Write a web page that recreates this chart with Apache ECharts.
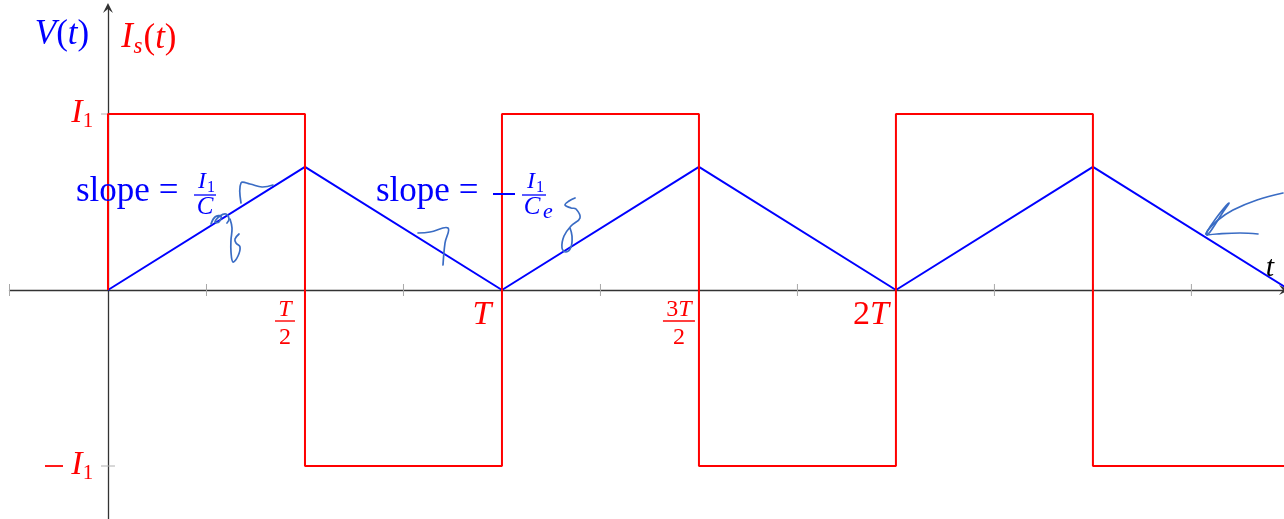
<!DOCTYPE html>
<html>
<head>
<meta charset="utf-8">
<script src="https://cdn.jsdelivr.net/npm/echarts@6/dist/echarts.min.js"></script>
<style>
  html, body { margin: 0; padding: 0; background: #fff; }
  #chart { width: 1284px; height: 519px; }
</style>
</head>
<body>
<div id="chart"></div>
<script>
// Time is measured in periods T, amplitudes in units of I1.
const currentT = [0, 0, 0.5, 0.5, 1, 1, 1.5, 1.5, 2, 2, 2.5, 2.5, 3];
const currentI = [0, 1, 1, -1, -1, 1, 1, -1, -1, 1, 1, -1, -1];
const voltageT = [0, 0.5, 1, 1.5, 2, 2.5, 3];
const voltageV = [0, 0.7, 0, 0.7, 0, 0.7, 0];

const xTicks = [-0.25, 0.25, 0.5, 0.75, 1, 1.25, 1.5, 1.75, 2, 2.25, 2.5, 2.75];
const yTicks = [1, -1];

const xLabelAt = [0.5, 1, 1.5, 2];
const xLabelNum = ['T', 'T', '3T', '2T'];
const xLabelDen = ['2', '', '2', ''];
const yLabelAt = [1, -1];
const yLabelSign = ['', '−'];

const RED = '#ff0000';
const BLUE = '#0000ff';
const INK = '#3a6cc4';
const SERIF = '"Liberation Serif", "DejaVu Serif", serif';

// letters italic, digits and brackets upright (math style)
function mathRich(s) {
  return s.split('').map(c => /[A-Za-z]/.test(c) ? '{i|' + c + '}' : '{u|' + c + '}').join('');
}
function mathStyles(size, color) {
  return {
    i: { fontFamily: SERIF, fontStyle: 'italic', fontSize: size, color: color },
    u: { fontFamily: SERIF, fontSize: size, color: color }
  };
}
function txt(text, x, y, size, color, opts) {
  opts = opts || {};
  return {
    type: 'text', x: x, y: y, silent: true, z: 10,
    style: {
      text: text,
      font: (opts.italic ? 'italic ' : '') + size + 'px ' + SERIF,
      fill: color,
      align: opts.align || 'center', textAlign: opts.align || 'center',
      verticalAlign: 'middle', textVerticalAlign: 'middle',
      rich: opts.rich
    }
  };
}
function bar(x1, x2, y, color, w) {
  return { type: 'line', silent: true, z: 10, shape: { x1: x1, y1: y, x2: x2, y2: y },
           style: { stroke: color, lineWidth: w || 1.3 } };
}
function ink(points) {
  return {
    type: 'polyline', silent: true,
    shape: { points: points, smooth: 0.4 },
    style: { stroke: INK, lineWidth: 1.7, fill: null, lineCap: 'round', lineJoin: 'round' },
    z: 20
  };
}

const arrowHead = 'path://M0,10 L5,0 L10,10 L5,6 Z';

const chart = echarts.init(document.getElementById('chart'));

chart.setOption({
  animation: false,
  grid: { left: 9.5, right: 0, top: 8, bottom: 0, containLabel: false },
  xAxis: {
    type: 'value', min: -0.25, max: 2.985,
    axisLine: { onZero: true, lineStyle: { color: '#333', width: 1.3 },
                symbol: ['none', arrowHead], symbolSize: [10, 11] },
    axisTick: { show: false }, axisLabel: { show: false }, splitLine: { show: false }
  },
  yAxis: {
    type: 'value', min: -1.3011, max: 1.6023,
    axisLine: { onZero: true, lineStyle: { color: '#333', width: 1.3 },
                symbol: ['none', arrowHead], symbolSize: [10, 11] },
    axisTick: { show: false }, axisLabel: { show: false }, splitLine: { show: false }
  },
  series: [
    {
      name: 'ticksX', type: 'custom', z: 1,
      data: xTicks.map(v => [v, 0]),
      renderItem: (params, api) => {
        const p = api.coord([api.value(0), 0]);
        return { type: 'line', shape: { x1: p[0], y1: p[1] - 6, x2: p[0], y2: p[1] + 6 },
                 style: { stroke: '#a8a8a8', lineWidth: 1 } };
      }
    },
    {
      name: 'ticksY', type: 'custom', z: 1,
      data: yTicks.map(v => [0, v]),
      renderItem: (params, api) => {
        const p = api.coord([0, api.value(1)]);
        return { type: 'line', shape: { x1: p[0] - 7, y1: p[1], x2: p[0] + 7, y2: p[1] },
                 style: { stroke: '#b0b0b0', lineWidth: 1 } };
      }
    },
    {
      name: 'V(t)', type: 'line', z: 3, clip: true,
      data: voltageT.map((t, i) => [t, voltageV[i]]),
      showSymbol: false, symbol: 'none',
      lineStyle: { color: BLUE, width: 2 }
    },
    {
      name: 'Is(t)', type: 'line', z: 4, clip: true,
      data: currentT.map((t, i) => [t, currentI[i]]),
      showSymbol: false, symbol: 'none',
      lineStyle: { color: RED, width: 2 }
    },
    {
      name: 'xLabels', type: 'custom', z: 5,
      data: xLabelAt.map((v, i) => [v, 0, i]),
      renderItem: (params, api) => {
        const idx = api.value(2);
        const p = api.coord([api.value(0), 0]);
        const cx = p[0] - 20;
        const num = xLabelNum[idx], den = xLabelDen[idx];
        if (den) {
          const w = num.length > 1 ? 16 : 10;
          return { type: 'group', children: [
            txt(mathRich(num), cx, p[1] + 20, 24, RED, { rich: mathStyles(24, RED) }),
            { type: 'line', shape: { x1: cx - w, y1: p[1] + 31, x2: cx + w, y2: p[1] + 31 },
              style: { stroke: RED, lineWidth: 1.4 } },
            txt(mathRich(den), cx, p[1] + 48, 24, RED, { rich: mathStyles(24, RED) })
          ] };
        }
        return txt(mathRich(num), cx + (num.length > 1 ? -5 : 0), p[1] + 25, 34, RED,
                   { rich: mathStyles(34, RED) });
      }
    },
    {
      name: 'yLabels', type: 'custom', z: 5,
      data: yLabelAt.map((v, i) => [0, v, i]),
      renderItem: (params, api) => {
        const idx = api.value(2);
        const p = api.coord([0, api.value(1)]);
        const kids = [
          txt('I', p[0] - 31, p[1] - 1, 34, RED, { italic: true }),
          txt('1', p[0] - 20, p[1] + 7, 21, RED)
        ];
        if (yLabelSign[idx]) kids.push(bar(p[0] - 63, p[0] - 45, p[1], RED, 1.8));
        return { type: 'group', children: kids };
      }
    }
  ],
  graphic: [
    // axis names
    txt('{i|V}{u|(}{i|t}{u|)}', 62, 35, 35, BLUE, { rich: mathStyles(35, BLUE) }),
    txt('I', 127, 38, 35, RED, { italic: true }),
    txt('s', 138, 47, 23, RED, { italic: true }),
    txt('{u|(}{i|t}{u|)}', 160, 39, 35, RED, { rich: mathStyles(35, RED) }),
    txt('t', 1270, 268, 30, '#000', { italic: true }),

    // rising-slope note
    txt('slope =', 76, 192, 35, BLUE, { align: 'left' }),
    txt('I', 202, 182, 24, BLUE, { italic: true }),
    txt('1', 211, 188, 16, BLUE),
    bar(194, 216, 195, BLUE),
    txt('C', 205, 207, 25, BLUE, { italic: true }),

    // falling-slope note
    txt('slope =', 376, 192, 35, BLUE, { align: 'left' }),
    bar(493, 515, 194, BLUE, 2),
    txt('I', 531, 182, 24, BLUE, { italic: true }),
    txt('1', 540, 188, 16, BLUE),
    bar(522, 546, 195, BLUE),
    txt('C', 532, 207, 25, BLUE, { italic: true }),
    txt('e', 548, 212, 22, BLUE, { italic: true }),

    // hand-written marks
    ink([[211, 224], [215, 217], [221, 216], [219, 222], [215, 222], [220, 216], [226, 214], [229, 219], [227, 223]]),
    ink([[230, 219], [232, 228], [231, 240], [231, 252], [233, 262], [238, 256], [240, 247], [236, 243], [235, 239], [239, 234]]),
    ink([[241, 203], [241, 183], [250, 184], [262, 187], [273, 185]]),
    ink([[418, 233], [430, 232], [448, 228], [445, 243], [443, 265]]),
    ink([[575, 198], [569, 201], [565, 205], [571, 208], [576, 209], [580, 218], [571, 226], [564, 236], [562, 248], [566, 252], [571, 247], [572, 236], [570, 228]]),
    ink([[1283, 193], [1257, 200], [1233, 210], [1218, 220], [1208, 230], [1206, 234]]),
    ink([[1206, 234], [1210, 227], [1220, 213], [1229, 203], [1223, 212], [1216, 223], [1210, 232], [1207, 235]]),
    ink([[1207, 235], [1217, 234], [1240, 233], [1258, 234]])
  ]
});
</script>
</body>
</html>
